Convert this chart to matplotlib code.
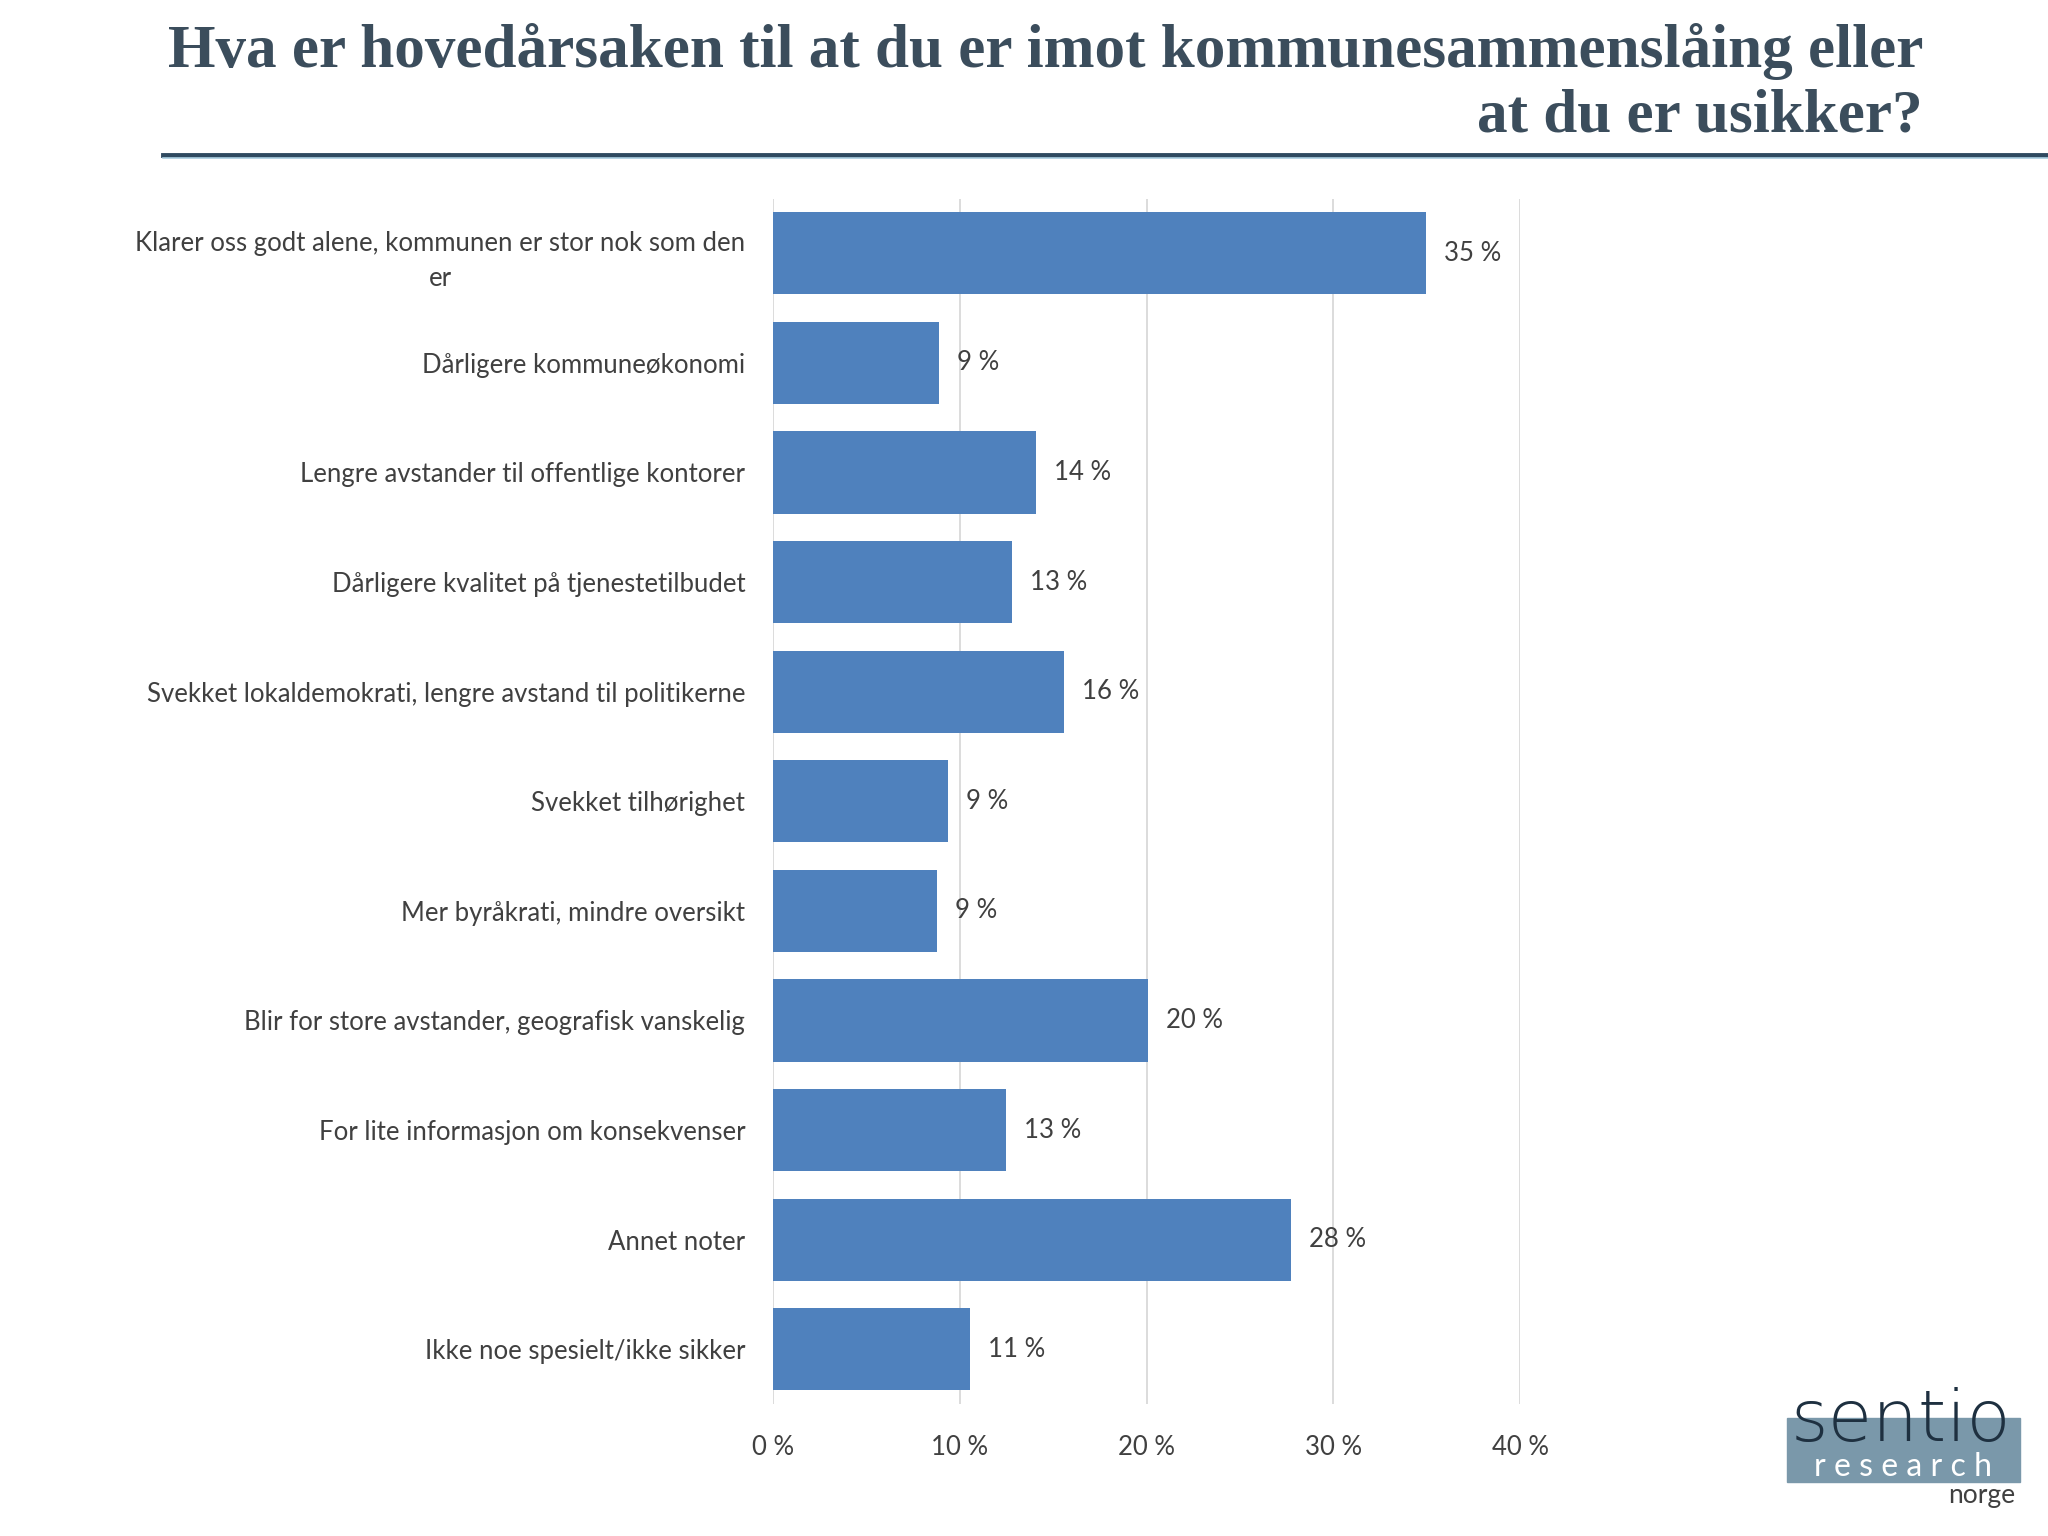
import matplotlib
matplotlib.use("Agg")
import matplotlib.pyplot as plt
from matplotlib.patches import Rectangle

# ── Data ──────────────────────────────────────────────────────────────────────
categories = [
    "Klarer oss godt alene, kommunen er stor nok som den\ner",
    "Dårligere kommuneøkonomi",
    "Lengre avstander til offentlige kontorer",
    "Dårligere kvalitet på tjenestetilbudet",
    "Svekket lokaldemokrati, lengre avstand til politikerne",
    "Svekket tilhørighet",
    "Mer byråkrati, mindre oversikt",
    "Blir for store avstander, geografisk vanskelig",
    "For lite informasjon om konsekvenser",
    "Annet noter",
    "Ikke noe spesielt/ikke sikker",
]
values = [34.97, 8.88, 14.06, 12.8, 15.6, 9.37, 8.8, 20.07, 12.5, 27.76, 10.56]
labels = ["35 %", "9 %", "14 %", "13 %", "16 %", "9 %", "9 %", "20 %", "13 %", "28 %", "11 %"]
xticks = [0, 10, 20, 30, 40]

TITLE = "Hva er hovedårsaken til at du er imot kommunesammenslåing eller\nat du er usikker?"

BAR_COLOR = "#4f81bd"
TEXT_COLOR = "#404040"
TITLE_COLOR = "#3b4d5c"
FONT = ["Lato", "DejaVu Sans"]
FS = 18.5

fig = plt.figure(figsize=(20.48, 15.36), dpi=100)

# ── Title + rule ──────────────────────────────────────────────────────────────
fig.text(0.939, 0.985, TITLE, ha="right", va="top", fontsize=44,
         fontweight="bold", family=["Liberation Serif", "DejaVu Serif"],
         color=TITLE_COLOR, linespacing=1.2)
fig.add_artist(plt.Line2D([163 / 2048, 1.0], [1 - 155 / 1536] * 2,
                          transform=fig.transFigure, color="#2f4a60", lw=3.5))
fig.add_artist(plt.Line2D([163 / 2048, 1.0], [1 - 158 / 1536] * 2,
                          transform=fig.transFigure, color="#a9cde0", lw=1.2))

# ── Bars ──────────────────────────────────────────────────────────────────────
ax = fig.add_axes([773 / 2048, 1 - 1404 / 1536, (1520 - 773) / 2048,
                   (1404 - 198.5) / 1536])
y = list(range(len(categories)))
ax.barh(y, values, height=0.75, color=BAR_COLOR, zorder=3)
for yi, v, lab in zip(y, values, labels):
    ax.annotate(lab, (v, yi), xytext=(18, 0), textcoords="offset pixels",
                va="center", ha="left", fontsize=FS, color=TEXT_COLOR,
                family=FONT)

ax.set_xlim(0, 40)
ax.set_ylim(len(categories) - 0.5, -0.5)
ax.set_xticks(xticks)
ax.set_xticklabels([f"{t} %" for t in xticks], fontsize=FS,
                   color=TEXT_COLOR, family=FONT)
ax.set_yticks(y)
ax.set_yticklabels(categories, fontsize=FS, color=TEXT_COLOR, family=FONT,
                   multialignment="center", linespacing=1.5)
ax.tick_params(axis="both", length=0)
ax.tick_params(axis="x", pad=22)
ax.tick_params(axis="y", pad=20)
ax.grid(axis="x", color="#d9d9d9", lw=1.3, zorder=0)
for s in ax.spines.values():
    s.set_visible(False)

# ── Logo ──────────────────────────────────────────────────────────────────────
fig.add_artist(Rectangle((1787 / 2048, 1 - 1482 / 1536), 233 / 2048, 64 / 1536,
                         transform=fig.transFigure, color="#7a98aa", zorder=1))
fig.text(1901 / 2048, 1 - 1441 / 1536, "sentio", ha="center", va="baseline",
         fontsize=52, color="#1e3040", family=["DejaVu Sans"],
         fontweight="light", zorder=2)
fig.text(1903 / 2048, 1 - 1476 / 1536, "r e s e a r c h", ha="center",
         va="baseline", fontsize=23, color="white", family=FONT, zorder=2)
fig.text(1982 / 2048, 1 - 1503 / 1536, "norge", ha="center", va="baseline",
         fontsize=19, color="#404040", family=FONT, zorder=2)

fig.savefig("out.png", dpi=100)
